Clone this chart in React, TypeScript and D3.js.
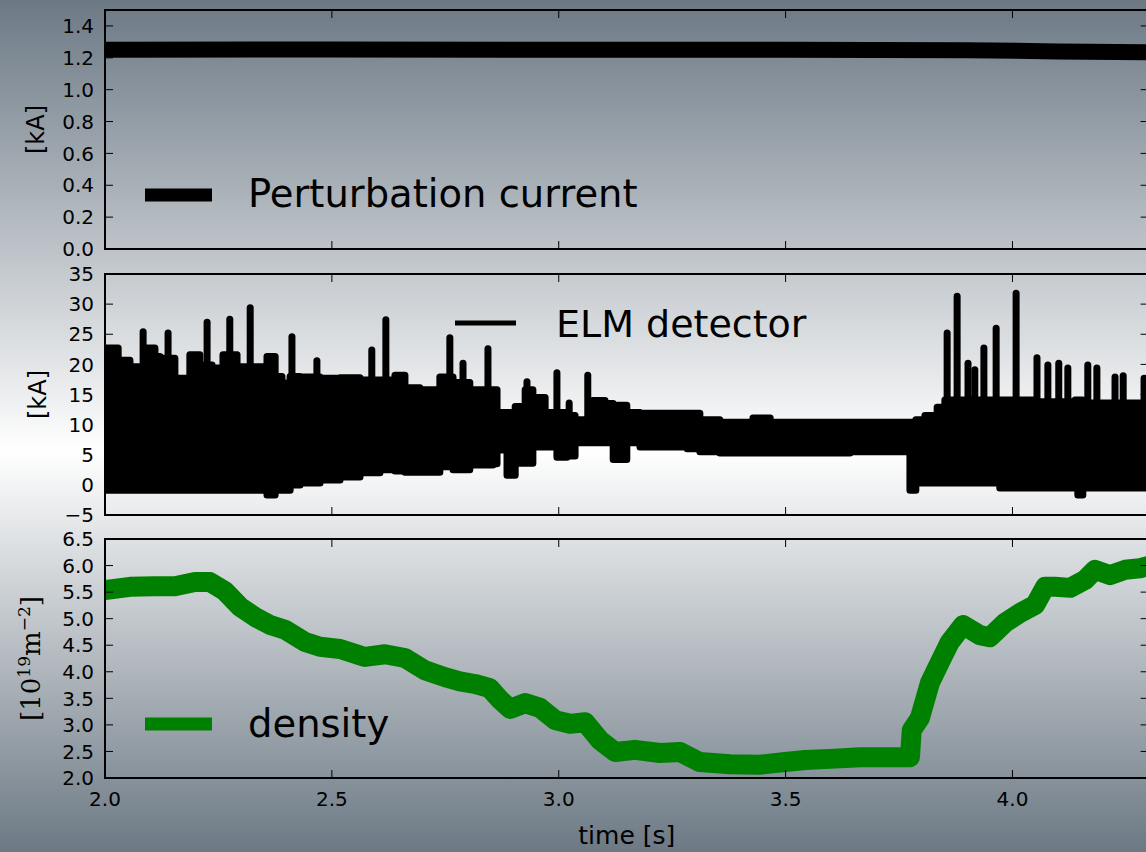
import React from "react";
import * as d3 from "d3";

const W = 1146;
const H = 852;

// perturbation current [kA]
const currentT = [2.0, 2.5, 3.0, 3.5, 3.9, 4.1, 4.3];
const currentV = [1.25, 1.252, 1.25, 1.25, 1.248, 1.24, 1.235];

// ELM detector: envelope of the dense oscillation band [kA]
const elmT = [2.000, 2.029, 2.055, 2.088, 2.110, 2.121, 2.128, 2.154, 2.187, 2.209, 2.236, 2.260, 2.291, 2.337, 2.357, 2.375, 2.390, 2.408, 2.430, 2.474, 2.518, 2.562, 2.606, 2.639, 2.661, 2.694, 2.738, 2.767, 2.804, 2.855, 2.864, 2.886, 2.904, 2.926, 2.943, 2.970, 2.996, 3.018, 3.036, 3.075, 3.102, 3.120, 3.150, 3.179, 3.283, 3.311, 3.355, 3.428, 3.466, 3.642, 3.763, 3.774, 3.787, 3.807, 3.834, 3.851, 3.972, 4.045, 4.138, 4.144, 4.155, 4.300];
const elmUpper = [22.7, 20.7, 19.6, 22.7, 21.3, 17.9, 21.0, 17.7, 21.6, 19.9, 19.4, 21.6, 19.6, 19.6, 21.3, 18.0, 16.9, 18.0, 17.9, 17.7, 17.8, 17.4, 17.4, 18.2, 16.1, 15.8, 17.9, 17.0, 15.8, 15.8, 12.0, 12.0, 13.0, 15.8, 14.5, 12.0, 12.0, 11.5, 10.8, 14.0, 13.5, 13.2, 12.0, 11.9, 11.9, 10.8, 10.4, 11.1, 10.4, 10.4, 10.4, 10.4, 10.8, 11.5, 12.9, 14.1, 14.1, 13.8, 14.1, 14.1, 13.6, 13.6];
const elmLower = [-0.9, -0.9, -0.9, -0.9, -0.9, -0.9, -0.9, -0.9, -0.9, -0.9, -0.9, -0.9, -0.9, -0.9, -1.7, -0.9, -0.9, 0.0, 0.3, 0.8, 1.3, 2.0, 2.5, 2.3, 2.1, 2.1, 3.0, 2.5, 3.3, 3.5, 5.8, 1.6, 3.6, 3.6, 6.3, 6.3, 4.6, 4.8, 7.0, 7.0, 7.0, 4.2, 7.0, 6.3, 6.0, 5.5, 5.3, 5.3, 5.3, 5.5, 5.5, -0.9, 0.3, 0.3, 0.3, 0.3, -0.5, -0.5, -0.5, -1.7, -0.5, -0.5];

// isolated ELM spikes (peak values)
const spikeT = [2.084, 2.139, 2.225, 2.275, 2.320, 2.412, 2.467, 2.588, 2.619, 2.760, 2.789, 2.844, 2.930, 2.996, 3.023, 3.064, 3.856, 3.878, 3.902, 3.917, 3.937, 3.964, 4.008, 4.054, 4.078, 4.102, 4.122, 4.166, 4.186, 4.226, 4.244, 4.290];
const spikeV = [25.4, 25.2, 27.0, 27.5, 29.4, 24.6, 20.6, 22.4, 27.4, 24.4, 20.2, 22.6, 17.1, 18.6, 13.6, 18.2, 25.2, 31.3, 20.2, 19.1, 22.7, 26.0, 31.8, 21.1, 19.9, 20.2, 19.4, 19.9, 19.4, 17.9, 18.1, 17.7];

// line-integrated density [10^19 m^-2]
const densT = [2.000, 2.055, 2.110, 2.154, 2.198, 2.231, 2.264, 2.298, 2.331, 2.364, 2.397, 2.441, 2.474, 2.518, 2.573, 2.617, 2.661, 2.705, 2.749, 2.782, 2.815, 2.848, 2.871, 2.893, 2.926, 2.959, 2.992, 3.025, 3.058, 3.091, 3.124, 3.168, 3.223, 3.267, 3.311, 3.377, 3.443, 3.499, 3.543, 3.598, 3.664, 3.730, 3.774, 3.778, 3.796, 3.818, 3.840, 3.862, 3.891, 3.928, 3.950, 3.983, 4.017, 4.050, 4.072, 4.094, 4.127, 4.160, 4.182, 4.215, 4.248, 4.281, 4.303];
const densV = [5.54, 5.60, 5.61, 5.61, 5.69, 5.69, 5.52, 5.22, 5.03, 4.88, 4.79, 4.56, 4.47, 4.43, 4.28, 4.33, 4.26, 4.03, 3.90, 3.82, 3.77, 3.69, 3.47, 3.30, 3.41, 3.32, 3.09, 3.02, 3.05, 2.71, 2.49, 2.53, 2.47, 2.49, 2.30, 2.26, 2.25, 2.30, 2.34, 2.36, 2.39, 2.39, 2.39, 2.90, 3.13, 3.79, 4.18, 4.56, 4.88, 4.69, 4.65, 4.92, 5.11, 5.26, 5.60, 5.60, 5.58, 5.73, 5.92, 5.82, 5.92, 5.95, 6.0];

const xTicks = [2.0, 2.5, 3.0, 3.5, 4.0];
const currentTicks = [0.0, 0.2, 0.4, 0.6, 0.8, 1.0, 1.2, 1.4];
const elmTicks = [-5, 0, 5, 10, 15, 20, 25, 30, 35];
const densTicks = [2.0, 2.5, 3.0, 3.5, 4.0, 4.5, 5.0, 5.5, 6.0, 6.5];

const FONT = "DejaVu Sans";
const L = 105;
const R = 1148.6;

const x = d3.scaleLinear().domain([2, 4.3]).range([L, R]);

const minus = (s: string) => s.replace("-", "\u2212");
const f1 = d3.format(".1f");
const f0 = d3.format("d");

type PanelProps = {
  id: string;
  top: number;
  bottom: number;
  y: d3.ScaleLinear<number, number>;
  ticks: number[];
  fmt: (v: number) => string;
  showX?: boolean;
  children?: React.ReactNode;
};

function Panel({ id, top, bottom, y, ticks, fmt, showX, children }: PanelProps) {
  const tl = 8;
  return (
    <g>
      <clipPath id={id}>
        <rect x={L} y={top} width={R - L} height={bottom - top} />
      </clipPath>
      <g clipPath={`url(#${id})`}>{children}</g>
      {ticks.map((t) => (
        <g key={t}>
          <line x1={L} x2={L + tl} y1={y(t)} y2={y(t)} stroke="#000" strokeWidth={1} />
          <line x1={R - tl} x2={R} y1={y(t)} y2={y(t)} stroke="#000" strokeWidth={1} />
          <text x={L - 11} y={y(t)} dy="0.36em" textAnchor="end" fontFamily={FONT} fontSize={20}>
            {minus(fmt(t))}
          </text>
        </g>
      ))}
      {xTicks.map((t) => (
        <g key={t}>
          <line x1={x(t)} x2={x(t)} y1={top} y2={top + tl} stroke="#000" strokeWidth={1} />
          <line x1={x(t)} x2={x(t)} y1={bottom - tl} y2={bottom} stroke="#000" strokeWidth={1} />
          {showX && (
            <text x={x(t)} y={bottom + 28} textAnchor="middle" fontFamily={FONT} fontSize={20}>
              {f1(t)}
            </text>
          )}
        </g>
      ))}
      <rect x={L} y={top} width={R - L} height={bottom - top} fill="none" stroke="#000" strokeWidth={2} />
    </g>
  );
}

export default function App() {
  const y1 = d3.scaleLinear().domain([0, 1.5]).range([249, 10]);
  const y2 = d3.scaleLinear().domain([-5, 35]).range([515, 274]);
  const y3 = d3.scaleLinear().domain([2.0, 6.5]).range([778, 539]);

  const currentLine = d3
    .line<number>()
    .x((d, i) => x(currentT[i]))
    .y((d) => y1(d))(currentV);

  const elmArea = d3
    .area<number>()
    .curve(d3.curveStepAfter)
    .x((d, i) => x(elmT[i]))
    .y0((d, i) => y2(elmLower[i]))
    .y1((d) => y2(d))(elmUpper);

  const densLine = d3
    .line<number>()
    .x((d, i) => x(densT[i]))
    .y((d) => y3(d))(densV);

  return (
    <svg
      width={W}
      height={H}
      style={{ position: "absolute", left: 0, top: 0 }}
      xmlns="http://www.w3.org/2000/svg"
    >
      <defs>
        <linearGradient id="bg" x1="0" y1="0" x2="0" y2="1">
          <stop offset="0" stopColor="#6c7985" />
          <stop offset="0.53" stopColor="#ffffff" />
          <stop offset="1" stopColor="#6c7984" />
        </linearGradient>
      </defs>
      <rect width={W} height={H} fill="url(#bg)" />

      <Panel id="c1" top={10} bottom={249} y={y1} ticks={currentTicks} fmt={f1}>
        <path d={currentLine ?? ""} fill="none" stroke="#000" strokeWidth={16} strokeLinejoin="round" />
      </Panel>

      <Panel id="c2" top={274} bottom={515} y={y2} ticks={elmTicks} fmt={f0}>
        <path d={elmArea ?? ""} fill="#000" stroke="#000" strokeWidth={7} strokeLinejoin="round" />
        {spikeT.map((t, i) => (
          <line
            key={i}
            x1={x(t)}
            x2={x(t)}
            y1={y2(10)}
            y2={y2(spikeV[i])}
            stroke="#000"
            strokeWidth={7}
            strokeLinecap="round"
          />
        ))}
      </Panel>

      <Panel id="c3" top={539} bottom={778} y={y3} ticks={densTicks} fmt={f1} showX>
        <path d={densLine ?? ""} fill="none" stroke="#008000" strokeWidth={20} strokeLinejoin="round" strokeLinecap="round" />
      </Panel>

      {/* axis labels */}
      <text transform={`translate(44,${(10 + 249) / 2}) rotate(-90)`} textAnchor="middle" fontFamily={FONT} fontSize={24}>
        [kA]
      </text>
      <text transform={`translate(46,${(274 + 515) / 2}) rotate(-90)`} textAnchor="middle" fontFamily={FONT} fontSize={24}>
        [kA]
      </text>
      <text transform={`translate(40,${(539 + 778) / 2}) rotate(-90)`} textAnchor="middle" fontFamily="DejaVu Serif" fontSize={26}>
        [10<tspan dy="-10" fontSize={17}>19</tspan>
        <tspan dy="10">m</tspan>
        <tspan dy="-10" fontSize={17}>{"\u22122"}</tspan>
        <tspan dy="10">]</tspan>
      </text>
      <text x={(L + R) / 2} y={844} textAnchor="middle" fontFamily={FONT} fontSize={25}>
        time [s]
      </text>

      {/* legends */}
      <line x1={145} x2={212} y1={195} y2={195} stroke="#000" strokeWidth={13} />
      <text x={248} y={207} fontFamily={FONT} fontSize={38.5}>Perturbation current</text>

      <line x1={455} x2={516} y1={323} y2={323} stroke="#000" strokeWidth={5} />
      <text x={556} y={337} fontFamily={FONT} fontSize={38}>ELM detector</text>

      <line x1={145} x2={212} y1={724} y2={724} stroke="#008000" strokeWidth={13} />
      <text x={248} y={737} fontFamily={FONT} fontSize={38.5}>density</text>
    </svg>
  );
}
